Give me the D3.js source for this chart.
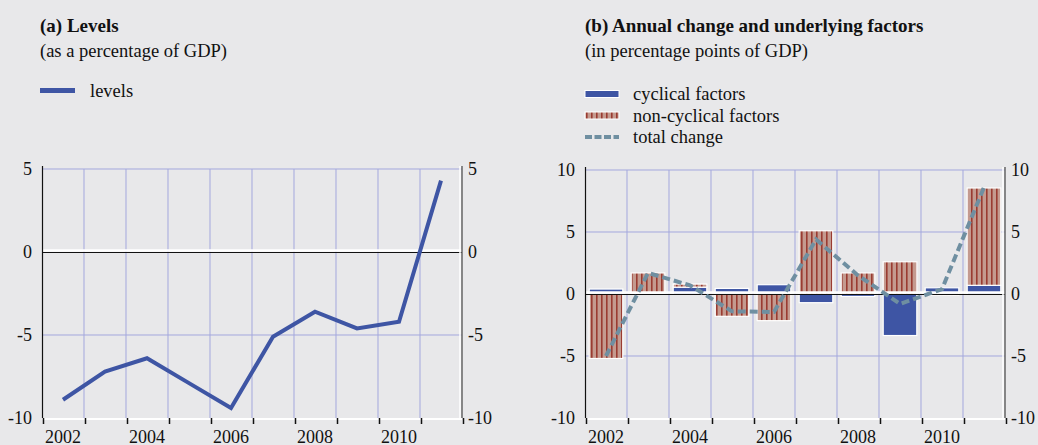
<!DOCTYPE html>
<html>
<head>
<meta charset="utf-8">
<script src="https://cdn.jsdelivr.net/npm/d3@7"></script>
<style>
  body { margin: 0; background: #e8e8ea; }
  svg text { font-family: "Liberation Serif", "DejaVu Serif", serif; fill: #111; }
</style>
</head>
<body>
<div id="chart"></div>
<script>
////////////////////////////////////////////////////////////////
// DATA
////////////////////////////////////////////////////////////////
const years = [2002, 2003, 2004, 2005, 2006, 2007, 2008, 2009, 2010, 2011]
const tickYears = [2002, 2004, 2006, 2008, 2010]

// panel (a): levels, % of GDP
const levels = [-8.9, -7.2, -6.4, -7.9, -9.4, -5.1, -3.6, -4.6, -4.2, 4.3]
const levelTicks = [5, 0, -5, -10]

// panel (b): annual change, pp of GDP
const cyclical = [0.4, 0.1, 0.55, 0.45, 0.75, -0.7, -0.2, -3.35, 0.5, 0.7]
const nonCyclical = [-5.2, 1.6, 0.25, -1.8, -2.15, 5.1, 1.7, 2.6, -0.1, 7.85]
const totalChange = [-5.0, 1.7, 0.7, -1.4, -1.45, 4.4, 1.5, -0.8, 0.4, 8.6]
const changeTicks = [10, 5, 0, -5, -10]

////////////////////////////////////////////////////////////////
// SETUP
////////////////////////////////////////////////////////////////
const W = 1038, H = 445
const BLUE = '#3e55a4'
const GRID = '#a3a7dd'
const DASH = '#6f8fa1'

const svg = d3.select('#chart').append('svg')
    .attr('width', W)
    .attr('height', H)

svg.append('rect').attr('width', W).attr('height', H).attr('fill', '#e8e8ea')

const defs = svg.append('defs')
const pat = defs.append('pattern')
    .attr('id', 'stripes')
    .attr('patternUnits', 'userSpaceOnUse')
    .attr('width', 5)
    .attr('height', 10)
pat.append('rect').attr('width', 5).attr('height', 10).attr('fill', '#c49a8f')
pat.append('rect').attr('x', 1).attr('width', 1.6).attr('height', 10).attr('fill', '#9a3b31')

////////////////////////////////////////////////////////////////
// GENERIC PANEL FRAME
////////////////////////////////////////////////////////////////
function drawFrame(g, x, y, yTicks, left, right, top, bottom){
    const step = x.step()

    // vertical grid lines at year boundaries
    g.append('g').selectAll('line')
        .data(years.slice(1))
        .join('line')
        .attr('x1', d => x(d)).attr('x2', d => x(d))
        .attr('y1', top).attr('y2', bottom)
        .attr('stroke', GRID).attr('stroke-width', 1)

    // horizontal grid lines
    g.append('g').selectAll('line')
        .data(yTicks.filter(d => d != 0 && d != y.domain()[0]))
        .join('line')
        .attr('x1', left).attr('x2', right)
        .attr('y1', d => y(d)).attr('y2', d => y(d))
        .attr('stroke', GRID).attr('stroke-width', 1)

    // tick labels on both sides
    g.append('g').selectAll('text')
        .data(yTicks)
        .join('text')
        .attr('x', left - 10)
        .attr('y', d => y(d))
        .attr('dy', '0.35em')
        .attr('text-anchor', 'end')
        .style('font-size', '18px')
        .text(d => d)
    g.append('g').selectAll('text')
        .data(yTicks)
        .join('text')
        .attr('x', right + 6)
        .attr('y', d => y(d))
        .attr('dy', '0.35em')
        .attr('text-anchor', 'start')
        .style('font-size', '18px')
        .text(d => d)

    // x labels
    g.append('g').selectAll('text')
        .data(tickYears)
        .join('text')
        .attr('x', d => x(d) + step / 2)
        .attr('y', H - 2.5)
        .attr('text-anchor', 'middle')
        .style('font-size', '18px')
        .text(d => d)
}

function drawAxes(g, x, y, left, right, top, bottom){
    // zero line
    g.append('line')
        .attr('x1', left).attr('x2', right)
        .attr('y1', y(0) - 1.5).attr('y2', y(0) - 1.5)
        .attr('stroke', '#fff').attr('stroke-width', 2.5)
    g.append('line')
        .attr('x1', left).attr('x2', right)
        .attr('y1', y(0) + 0.5).attr('y2', y(0) + 0.5)
        .attr('stroke', '#111').attr('stroke-width', 1)

    // bottom axis
    g.append('line')
        .attr('x1', left).attr('x2', right)
        .attr('y1', bottom + 1).attr('y2', bottom + 1)
        .attr('stroke', '#fff').attr('stroke-width', 2)
    const bounds = years.map(d => x(d)).concat([right])
    g.append('g').selectAll('line')
        .data(bounds)
        .join('line')
        .attr('x1', d => d + 1.5).attr('x2', d => d + 1.5)
        .attr('y1', bottom).attr('y2', bottom + 6)
        .attr('stroke', '#111').attr('stroke-width', 1.5)

    // left axis (black) and right axis (grey)
    g.append('line')
        .attr('x1', left + 0.5).attr('x2', left + 0.5)
        .attr('y1', top - 3).attr('y2', bottom)
        .attr('stroke', '#111').attr('stroke-width', 1.2)
    g.append('line')
        .attr('x1', right - 2).attr('x2', right - 2)
        .attr('y1', top - 3).attr('y2', bottom)
        .attr('stroke', '#fff').attr('stroke-width', 1.5)
    g.append('line')
        .attr('x1', right).attr('x2', right)
        .attr('y1', top - 3).attr('y2', bottom)
        .attr('stroke', '#666').attr('stroke-width', 1.5)
}

////////////////////////////////////////////////////////////////
// PANEL (a) LEVELS
////////////////////////////////////////////////////////////////
const aLeft = 42, aRight = 462, aTop = 169, aBottom = 418
const xa = d3.scaleBand().domain(years).range([aLeft, aRight]).padding(0)
const ya = d3.scaleLinear().domain([-10, 5]).range([aBottom, aTop])
const ga = svg.append('g')

ga.append('text').attr('x', 40).attr('y', 32)
    .style('font-size', '19px').style('font-weight', 'bold')
    .text('(a) Levels')
ga.append('text').attr('x', 40).attr('y', 57)
    .style('font-size', '18.5px')
    .text('(as a percentage of GDP)')
ga.append('line')
    .attr('x1', 40).attr('x2', 75).attr('y1', 90.5).attr('y2', 90.5)
    .attr('stroke', BLUE).attr('stroke-width', 5)
ga.append('text').attr('x', 90).attr('y', 97)
    .style('font-size', '18.5px')
    .text('levels')

drawFrame(ga, xa, ya, levelTicks, aLeft, aRight, aTop, aBottom)
drawAxes(ga, xa, ya, aLeft, aRight, aTop, aBottom)

ga.append('path')
    .datum(years.map((d, i) => [d, levels[i]]))
    .attr('fill', 'none')
    .attr('stroke', BLUE)
    .attr('stroke-width', 4)
    .attr('stroke-linejoin', 'miter')
    .attr('d', d3.line()
        .x(d => xa(d[0]) + xa.bandwidth() / 2)
        .y(d => ya(d[1])))

////////////////////////////////////////////////////////////////
// PANEL (b) ANNUAL CHANGE
////////////////////////////////////////////////////////////////
const bLeft = 585, bRight = 1005, bTop = 170, bBottom = 418
const xb = d3.scaleBand().domain(years).range([bLeft, bRight]).padding(0)
const xBar = d3.scaleBand().domain(years).range([bLeft, bRight])
    .paddingInner(0.2).paddingOuter(0.1)
const yb = d3.scaleLinear().domain([-10, 10]).range([bBottom, bTop])
const gb = svg.append('g')

gb.append('text').attr('x', 585).attr('y', 32)
    .style('font-size', '19px').style('font-weight', 'bold')
    .text('(b) Annual change and underlying factors')
gb.append('text').attr('x', 585).attr('y', 57)
    .style('font-size', '18.5px')
    .text('(in percentage points of GDP)')

// legend
const legendRows = [
    {label: 'cyclical factors', type: 'blue'},
    {label: 'non-cyclical factors', type: 'stripes'},
    {label: 'total change', type: 'dash'}
]
const lg = gb.append('g')
lg.selectAll('g')
    .data(legendRows)
    .join('g')
    .attr('transform', (d, i) => 'translate(585,' + (94 + i * 21.5) + ')')
    .each(function(d){
        const row = d3.select(this)
        if (d.type == 'dash'){
            row.append('line')
                .attr('x1', 0).attr('x2', 34).attr('y1', 0).attr('y2', 0)
                .attr('stroke', DASH).attr('stroke-width', 4)
                .attr('stroke-dasharray', '7,2.5')
        } else {
            row.append('rect')
                .attr('x', 0).attr('y', -3.5).attr('width', 34).attr('height', 7)
                .attr('fill', d.type == 'blue' ? BLUE : 'url(#stripes)')
                .attr('stroke', '#fff').attr('stroke-width', 1)
        }
        row.append('text')
            .attr('x', 48).attr('y', 6)
            .style('font-size', '18.5px')
            .text(d.label)
    })

drawFrame(gb, xb, yb, changeTicks, bLeft, bRight, bTop, bBottom)

// stacked bars: positives stack up from 0, negatives stack down
const stackRows = years.map((d, i) => ({year: d, cyclical: cyclical[i], nonCyclical: nonCyclical[i]}))
const stacked = d3.stack()
    .keys(['cyclical', 'nonCyclical'])
    .offset(d3.stackOffsetDiverging)(stackRows)

gb.append('g').selectAll('g')
    .data(stacked)
    .join('g')
    .attr('fill', d => d.key == 'cyclical' ? BLUE : 'url(#stripes)')
    .selectAll('rect')
    .data(d => d)
    .join('rect')
    .attr('x', d => xBar(d.data.year))
    .attr('width', xBar.bandwidth())
    .attr('y', d => yb(Math.max(d[0], d[1])))
    .attr('height', d => Math.abs(yb(d[0]) - yb(d[1])))
    .attr('stroke', '#fff')
    .attr('stroke-width', 1.2)

drawAxes(gb, xb, yb, bLeft, bRight, bTop, bBottom)

gb.append('path')
    .datum(years.map((d, i) => [d, totalChange[i]]))
    .attr('fill', 'none')
    .attr('stroke', DASH)
    .attr('stroke-width', 4)
    .attr('stroke-dasharray', '8,4')
    .attr('d', d3.line()
        .x(d => xb(d[0]) + xb.bandwidth() / 2)
        .y(d => yb(d[1])))
</script>
</body>
</html>
